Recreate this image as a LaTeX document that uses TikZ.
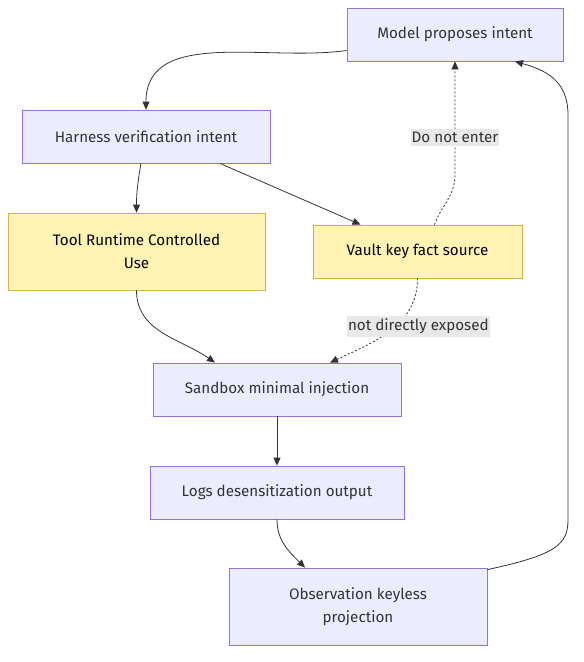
\documentclass[tikz,border=0pt]{standalone}
\usepackage{fontspec}
\setmainfont{Fira Sans}
\usetikzlibrary{positioning, arrows.meta}
\definecolor{boxfill}{HTML}{ECECFF}
\definecolor{boxline}{HTML}{9370DB}
\definecolor{keyfill}{HTML}{FFF3B3}
\definecolor{keyline}{HTML}{D4B04A}
\definecolor{lblfill}{HTML}{E8E8E8}
\definecolor{inkgray}{HTML}{333333}

\begin{document}
\begin{tikzpicture}[x=1pt, y=-1pt, >={Triangle[length=8pt,width=7pt]},
   font=\fontsize{15.2}{23}\selectfont,
   proc/.style={draw=boxline, fill=boxfill, text=inkgray, align=center, line width=0.8pt, minimum height=53},
   keybox/.style={draw=keyline, fill=keyfill, text=black, align=center, line width=0.8pt, minimum height=53},
   flow/.style={->, draw=inkgray, line width=0.8pt},
   hint/.style={flow, dash pattern=on 2pt off 2pt},
   lbl/.style={fill=lblfill, text=inkgray, inner xsep=1pt, inner ysep=3pt}]
   \useasboundingbox (0,0) rectangle (584,662);

   % 定义节点
   \node[proc, minimum width=216] (model) at (455,34.5) {Model proposes intent};
   \node[proc, minimum width=248] (harness) at (146,136.5) {Harness verification intent};
   \node[keybox, minimum width=257, minimum height=77] (tool) at (136.5,251.5) {Tool Runtime Controlled\\Use};
   \node[keybox, minimum width=209] (vault) at (417.5,251.5) {Vault key fact source};
   \node[proc, minimum width=248] (sandbox) at (277,389.5) {Sandbox minimal injection};
   \node[proc, minimum width=254] (logs) at (277,492.5) {Logs desensitization output};
   \node[proc, minimum width=258, minimum height=77] (obs) at (358,606.5) {Observation keyless\\projection};

   % 主流程
   \draw[flow] ([yshift=-16]model.west) to[out=188, in=90] (harness.north);
   \draw[flow] ([xshift=-5]harness.south) to[out=-100, in=90] (tool.north);
   \draw[flow] ([xshift=74]harness.south) -- ([xshift=-57]vault.north);
   \draw[flow] (tool.south) to[out=-90, in=145] ([xshift=-62]sandbox.north);
   \draw[flow] (sandbox.south) -- (logs.south |- logs.north);
   \draw[flow] (logs.south) to[out=-90, in=135] ([xshift=-53]obs.north);

   % 密钥路径 (虚线)
   \draw[hint] ([xshift=17]vault.north) to[out=70, in=-90] (455,175)
      -- node[lbl, pos=0.33] {Do not enter} (model.south);
   \draw[hint] (vault.south) to[out=-90, in=25]
      node[lbl, pos=0.42, xshift=21, yshift=-2] {not directly exposed} ([xshift=53]sandbox.north);

   % 回到模型
   \draw[flow] ([yshift=-2]obs.north east) .. controls (555,555) and (568,545) .. (568,520)
      -- (568,115) .. controls (568,80) and (545,70) .. ([xshift=60]model.south);
\end{tikzpicture}
\end{document}
